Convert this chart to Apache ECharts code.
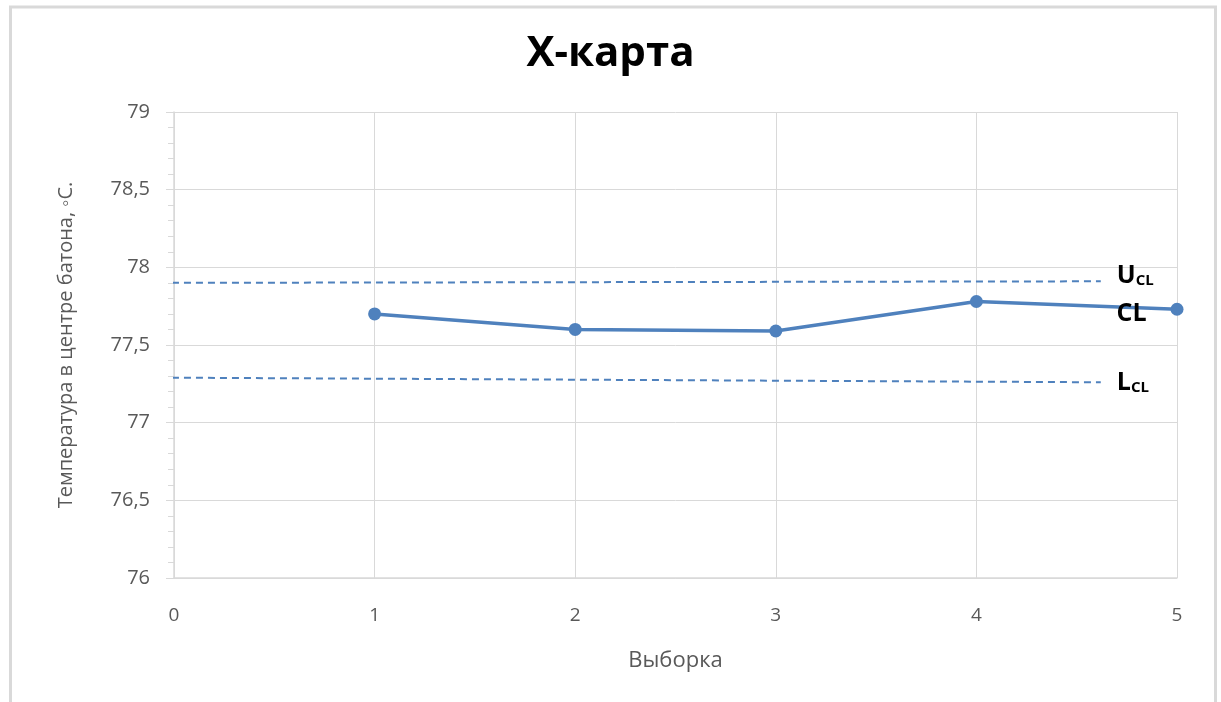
<!DOCTYPE html>
<html>
<head>
<meta charset="utf-8">
<script src="https://cdn.jsdelivr.net/npm/echarts@6/dist/echarts.min.js"></script>
<style>
  html, body { margin: 0; padding: 0; background: #fff; }
  #main { width: 1221px; height: 702px; }
</style>
</head>
<body>
<div id="main"></div>
<script>
// данные
const samples = [1, 2, 3, 4, 5]
const temps = [77.70, 77.60, 77.59, 77.78, 77.73]
// контрольные границы (начало и конец пунктирных линий)
const uclX = [-0.07, 4.62]
const uclY = [77.90, 77.91]
const lclX = [-0.07, 4.62]
const lclY = [77.29, 77.26]

const font = 'Open Sans'
const blue = '#4f81bd'
const grey = '#d9d9d9'

const chart = echarts.init(document.getElementById('main'))

const pts = samples.map((s, i) => [s, temps[i]])
// подпись CL у последней точки
pts[pts.length - 1] = {
  value: pts[pts.length - 1],
  label: {
    show: true,
    position: 'left',
    distance: 0,
    offset: [-24, 5],
    formatter: 'CL',
    fontFamily: font,
    fontWeight: 'bold',
    fontSize: 25,
    color: '#000'
  }
}

// U/L с нижним индексом CL
const subRich = {
  b: { fontFamily: font, fontWeight: 'bold', fontSize: 25, color: '#000', lineHeight: 32, verticalAlign: 'bottom' },
  s: { fontFamily: font, fontWeight: 'bold', fontSize: 15, color: '#000', lineHeight: 12, verticalAlign: 'bottom' }
}

const option = {
  animation: false,
  title: {
    text: 'X-карта',
    left: 'center',
    top: 28,
    textStyle: { fontFamily: font, fontWeight: 'bold', fontSize: 42, color: '#000' }
  },
  grid: { left: 174, right: 44, top: 112, bottom: 124 },
  xAxis: {
    type: 'value',
    min: 0,
    max: 5,
    interval: 1,
    name: 'Выборка',
    nameLocation: 'middle',
    nameGap: 72,
    nameTextStyle: { fontFamily: font, fontSize: 22, color: '#595959' },
    axisLine: { lineStyle: { color: grey, width: 1.5 } },
    axisTick: { show: false },
    axisLabel: { margin: 28, fontFamily: font, fontSize: 19, color: '#595959' },
    splitLine: { show: true, lineStyle: { color: grey, width: 1 } }
  },
  yAxis: {
    type: 'value',
    min: 76,
    max: 79,
    interval: 0.5,
    name: 'Температура в центре батона, ◦С.',
    nameLocation: 'middle',
    nameGap: 98,
    nameTextStyle: { fontFamily: font, fontSize: 20, color: '#595959' },
    axisLine: { show: true, lineStyle: { color: grey, width: 1.5 } },
    axisTick: { show: true, inside: false, length: 8, lineStyle: { color: grey } },
    minorTick: { show: true, splitNumber: 5, length: 6, lineStyle: { color: grey } },
    axisLabel: {
      margin: 24,
      fontFamily: font,
      fontSize: 20,
      color: '#595959',
      formatter: v => String(v).replace('.', ',')
    },
    splitLine: { show: true, lineStyle: { color: grey, width: 1 } }
  },
  graphic: [{
    type: 'rect',
    shape: { x: 10.5, y: 7, width: 1205, height: 800 },
    style: { fill: 'none', stroke: grey, lineWidth: 3 },
    silent: true
  }],
  series: [
    {
      type: 'line',
      data: uclX.map((x, i) => [x, uclY[i]]),
      clip: false,
      symbol: 'none',
      lineStyle: { color: blue, width: 2, type: [7, 5] },
      endLabel: {
        show: true,
        distance: 16,
        offset: [0, -9],
        formatter: '{b|U}{s|CL}',
        rich: subRich
      },
      z: 2
    },
    {
      type: 'line',
      data: lclX.map((x, i) => [x, lclY[i]]),
      clip: false,
      symbol: 'none',
      lineStyle: { color: blue, width: 2, type: [7, 5] },
      endLabel: {
        show: true,
        distance: 16,
        offset: [0, -3],
        formatter: '{b|L}{s|CL}',
        rich: subRich
      },
      z: 2
    },
    {
      type: 'line',
      data: pts,
      symbol: 'circle',
      symbolSize: 13,
      itemStyle: { color: blue },
      lineStyle: { color: blue, width: 3.5 },
      z: 3
    }
  ]
}

chart.setOption(option)
</script>
</body>
</html>
